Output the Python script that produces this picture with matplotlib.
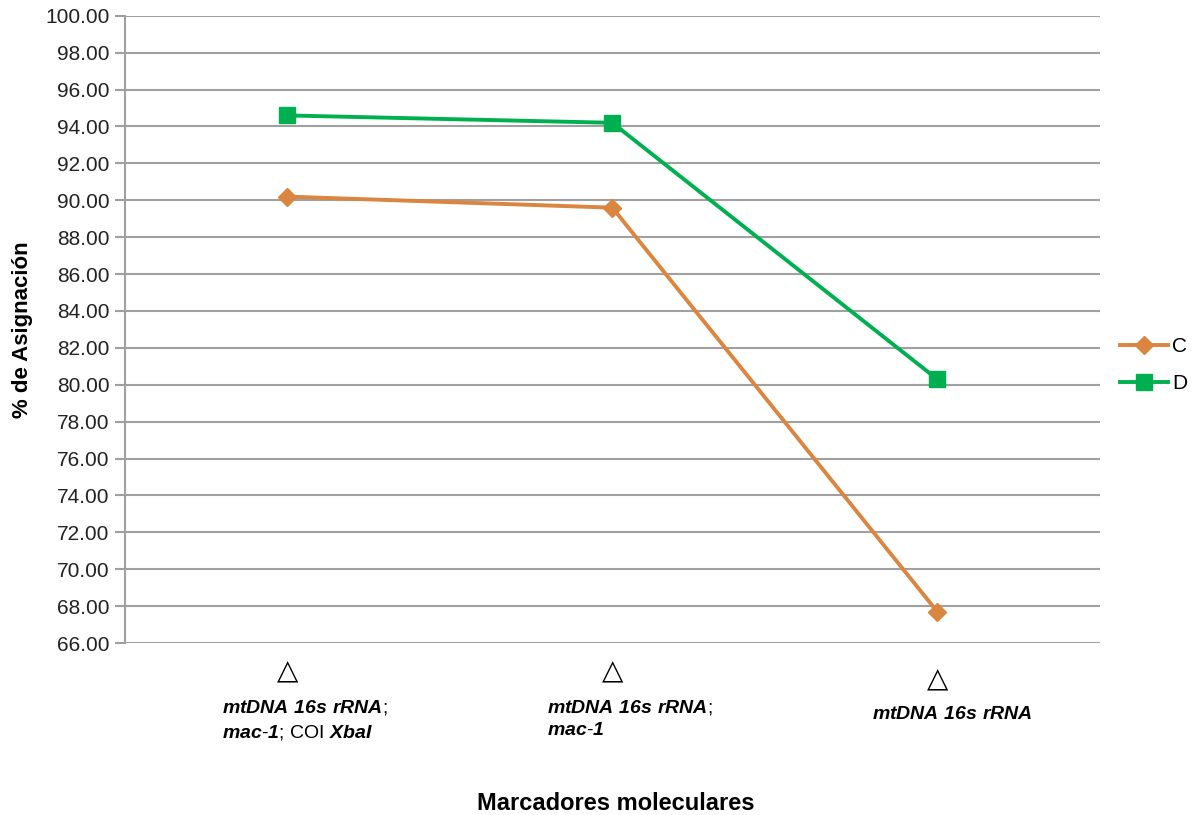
import numpy as np
import matplotlib.pyplot as plt
from matplotlib.transforms import blended_transform_factory

plt.rcParams['font.family'] = ['Liberation Sans', 'DejaVu Sans']
plt.rcParams['mathtext.fontset'] = 'custom'
plt.rcParams['mathtext.rm'] = 'Liberation Sans:italic:bold'
plt.rcParams['mathtext.it'] = 'Liberation Sans:italic:bold'

# data
categories = [r'$\mathit{mtDNA\ 16s\ rRNA}$;' + '\n' + r'$\mathit{mac}$-$\mathit{1}$; COI $\mathit{XbaI}$',
              r'$\mathit{mtDNA\ 16s\ rRNA}$;' + '\n' + r'$\mathit{mac}$-$\mathit{1}$',
              r'$\mathit{mtDNA\ 16s\ rRNA}$']
c_vals = [90.2, 89.6, 67.7]
d_vals = [94.6, 94.2, 80.3]
yticks = np.arange(66, 100.1, 2)

fig = plt.figure(figsize=(11.96, 8.15), dpi=100)
ax = fig.add_axes([0.1045, 0.211, 0.815, 0.7696])

x = np.arange(len(categories))
ax.plot(x, c_vals, '-', marker='D', color='#DA8540', linewidth=2.8, markersize=9, label='C', zorder=3)
ax.plot(x, d_vals, '-', marker='s', color='#00B050', linewidth=2.8, markersize=11, label='D', zorder=3)

ax.set_xlim(-0.5, 2.5)
ax.set_ylim(66, 100)
ax.set_yticks(yticks)
ax.set_yticklabels(['%.2f' % v for v in yticks], fontsize=15, color='#222222')
ax.yaxis.grid(True, color='#A0A0A0', linewidth=1.5)
ax.set_axisbelow(True)
for s in ['top', 'right', 'bottom']:
    ax.spines[s].set_visible(False)
ax.spines['left'].set_color('#A0A0A0')
ax.spines['left'].set_linewidth(1.5)
ax.tick_params(axis='y', length=7, width=1.5, color='#A0A0A0', pad=4)
ax.set_xticks([])

# category labels: triangle + text block
trans = blended_transform_factory(ax.transData, ax.transAxes)
tri_dy = [-0.046, -0.046, -0.058]
txt_dy = [-0.087, -0.087, -0.100]
txt_dx = [-0.2, -0.2, -0.2]
for i, lab in enumerate(categories):
    ax.text(x[i], tri_dy[i], '\u25B3', transform=trans, ha='center', va='center',
            fontsize=20, family='DejaVu Sans', color='black')
    ax.text(x[i] + txt_dx[i], txt_dy[i], lab, transform=trans, ha='left', va='top',
            fontsize=14, linespacing=1.45, color='black')

ax.set_ylabel('% de Asignación', fontsize=16, fontweight='bold', labelpad=9)
fig.text(0.515, 0.015, 'Marcadores moleculares', ha='center', va='center',
         fontsize=17, fontweight='bold', transform=fig.transFigure)
fig.texts[-1].set_position((0.515, 1 - 803 / 815))

ax.legend(loc='center left', bbox_to_anchor=(1.01, 0.443), frameon=False, fontsize=15,
          handlelength=2.3, labelspacing=0.85, handletextpad=0.2, borderpad=0)

fig.savefig('out.png', dpi=100)
